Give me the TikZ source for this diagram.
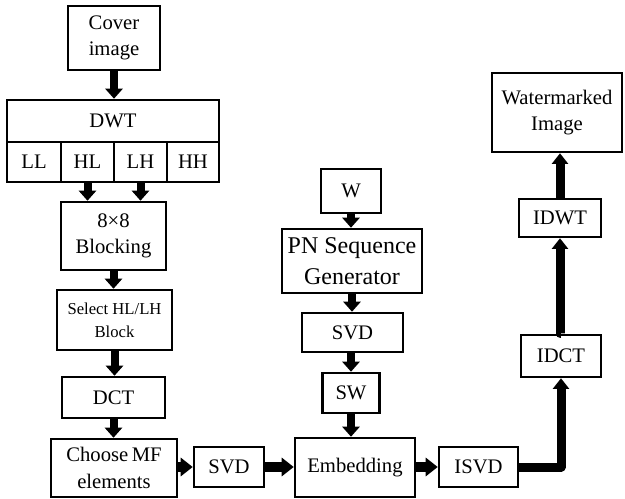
\documentclass[tikz,border=0pt]{standalone}
\usepackage{fontspec}
\setmainfont{Liberation Serif}
\usetikzlibrary{arrows.meta}
\begin{document}
\begin{tikzpicture}[x=0.75pt,y=-0.75pt,
  box/.style={draw, line width=1.9pt, inner sep=0pt, align=center,
    font=\fontsize{15.5}{20}\selectfont},
  sz/.style 2 args={minimum width=#1*0.75pt, minimum height=#2*0.75pt},
  flow/.style={line width=6pt, -{Triangle[length=7.5pt,width=12.75pt]}},
  hflow/.style={line width=7.5pt, -{Triangle[length=9pt,width=13.5pt]}},
  bigflow/.style={line width=6.75pt, line join=round, -{Triangle[length=8pt,width=12pt]}}]
\useasboundingbox (0,0) rectangle (625,499);

% left column: cover image through coefficient selection
\node[box, sz={92}{64}] (cover) at (114,38) {Cover\\image};
\node[box, sz={212}{42}] (dwt) at (113,121) {DWT};
\node[box, sz={54}{40}] (ll) at (34,162) {LL};
\node[box, sz={53}{40}] (hl) at (87.5,162) {HL};
\node[box, sz={53}{40}] (lh) at (140.5,162) {LH};
\node[box, sz={52}{40}] (hh) at (193,162) {HH};
\node[box, sz={105}{68}] (block) at (113.5,236) {8×8\\Blocking};
\node[box, sz={115}{60}, font=\fontsize{12.5}{17}\selectfont] (select) at (114.5,320) {Select HL/LH\\Block};
\node[box, sz={103}{41}] (dct) at (113.5,397.5) {DCT};
\node[box, sz={126}{58}] (choose) at (114,468) {Choose\,MF\\elements};

% bottom row
\node[box, sz={70}{40}] (svda) at (229,467) {SVD};
\node[box, sz={120}{59}] (embed) at (355,467.5) {Embedding};
\node[box, sz={79}{40}] (isvd) at (478.5,467) {ISVD};

% watermark branch
\node[box, sz={60}{44}] (w) at (351,191) {W};
\node[box, sz={140}{64}, font=\fontsize{18}{23}\selectfont] (pn) at (352,261) {PN Sequence\\Generator};
\node[box, sz={101}{39}] (svdb) at (352.5,332.5) {SVD};
\node[box, sz={57}{40}] (sw) at (351,393) {SW};

% inverse transforms
\node[box, sz={80}{42}] (idct) at (561,356) {IDCT};
\node[box, sz={82}{38}] (idwt) at (560,218) {IDWT};
\node[box, sz={130}{79}] (wm) at (557,112.5) {Watermarked\\Image};

% connectors
\draw[flow] (cover.south) -- (cover.south |- dwt.north);
\draw[flow] (hl.south) -- (hl.south |- block.north);
\draw[flow] (lh.south) -- (lh.south |- block.north);
\draw[flow] (block.south) -- (block.south |- select.north);
\draw[flow] (select.south) -- (select.south |- dct.north);
\draw[flow] (dct.south) -- (dct.south |- choose.north);
\draw[hflow] (choose.east |- svda.west) -- (svda.west);
\draw[hflow] (svda.east) -- (svda.east -| embed.west);
\draw[hflow] (embed.east |- isvd.west) -- (isvd.west);

\draw[flow] (w.south) -- (w.south |- pn.north);
\draw[flow] (pn.south) -- (pn.south |- svdb.north);
\draw[flow] (svdb.south -| sw.south) -- (sw.north);
\draw[flow] (sw.south) -- (sw.south |- embed.north);

\coordinate (bend) at (idct.south |- isvd.east);
\draw[bigflow] (isvd.east) -- (bend) -- (idct.south);
\draw[bigflow] (idct.north) -- (idct.north -| idwt.south) -- (idwt.south);
\draw[bigflow] (idwt.north) -- (idwt.north |- wm.south);
\end{tikzpicture}
\end{document}
